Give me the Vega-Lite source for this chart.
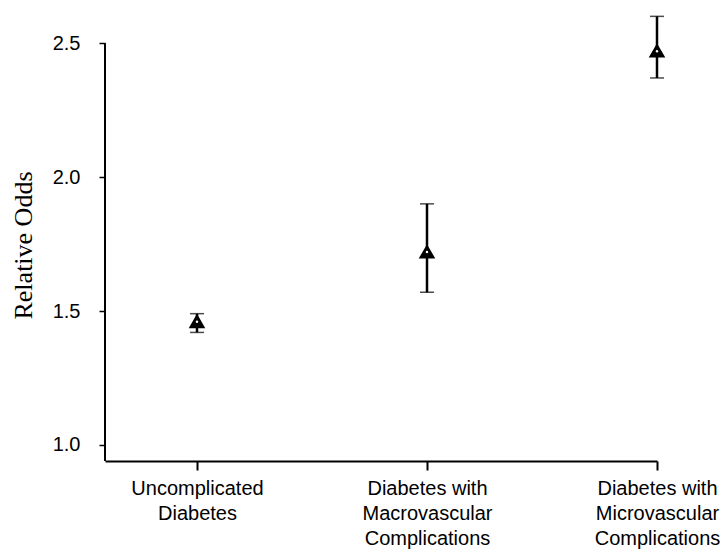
{
  "$schema": "https://vega.github.io/schema/vega-lite/v6.json",
  "width": 552,
  "height": 450,
  "autosize": "none",
  "padding": {"left": 105, "top": 11, "right": 68, "bottom": 92},
  "background": "white",
  "config": {
    "view": {"stroke": null},
    "axis": {
      "grid": false,
      "domainColor": "black",
      "tickColor": "black",
      "labelColor": "black",
      "titleColor": "black",
      "labelFont": "Liberation Sans"
    }
  },
  "data": {
    "values": [
      {"group": "Uncomplicated Diabetes", "pos": 1, "odds": 1.46, "lo": 1.42, "hi": 1.49},
      {"group": "Diabetes with Macrovascular Complications", "pos": 2, "odds": 1.72, "lo": 1.57, "hi": 1.9},
      {"group": "Diabetes with Microvascular Complications", "pos": 3, "odds": 2.47, "lo": 2.37, "hi": 2.6}
    ]
  },
  "encoding": {
    "x": {
      "field": "pos",
      "type": "quantitative",
      "scale": {"domain": [0.6, 3], "nice": false, "zero": false},
      "axis": {
        "title": null,
        "values": [1, 2, 3],
        "domainWidth": 2,
        "tickWidth": 2,
        "tickSize": 9,
        "labelFontSize": 20,
        "labelPadding": 8,
        "labelFlush": false,
        "labelOverlap": false,
        "labelBound": false,
        "labelAlign": "center",
        "labelBaseline": "top",
        "labelLineHeight": 25,
        "labelExpr": "datum.value == 1 ? ['Uncomplicated', 'Diabetes'] : datum.value == 2 ? ['Diabetes with', 'Macrovascular', 'Complications'] : ['Diabetes with', 'Microvascular', 'Complications']"
      }
    },
    "y": {
      "field": "odds",
      "type": "quantitative",
      "scale": {"domain": [0.94, 2.62], "nice": false, "zero": false},
      "axis": {
        "title": "Relative Odds",
        "titleFont": "Liberation Serif",
        "titleFontSize": 26,
        "titleFontWeight": "normal",
        "titlePadding": 16,
        "titleY": 234,
        "values": [1, 1.5, 2, 2.5],
        "format": ".1f",
        "domain": false,
        "tickSize": 6,
        "tickWidth": 1.5,
        "labelFontSize": 20,
        "labelPadding": 19
      }
    }
  },
  "layer": [
    {
      "data": {"values": [{"x": 0.6, "y": 0.94, "y2": 2.5}]},
      "mark": {"type": "rule", "color": "black", "strokeWidth": 2},
      "encoding": {
        "x": {"field": "x", "type": "quantitative"},
        "y": {"field": "y", "type": "quantitative"},
        "y2": {"field": "y2"}
      }
    },
    {
      "mark": {"type": "rule", "color": "black", "strokeWidth": 2.5},
      "encoding": {
        "y": {"field": "lo", "type": "quantitative"},
        "y2": {"field": "hi"}
      }
    },
    {
      "mark": {"type": "tick", "orient": "horizontal", "color": "black", "size": 14, "thickness": 1.5},
      "encoding": {"y": {"field": "lo", "type": "quantitative"}}
    },
    {
      "mark": {"type": "tick", "orient": "horizontal", "color": "black", "size": 14, "thickness": 1.5},
      "encoding": {"y": {"field": "hi", "type": "quantitative"}}
    },
    {
      "mark": {"type": "point", "shape": "triangle-up", "filled": true, "color": "black", "stroke": "black", "strokeWidth": 3, "size": 130, "opacity": 1},
      "encoding": {}
    },
    {
      "mark": {"type": "point", "shape": "circle", "filled": true, "color": "white", "size": 6, "opacity": 1, "strokeWidth": 0},
      "encoding": {}
    }
  ]
}
